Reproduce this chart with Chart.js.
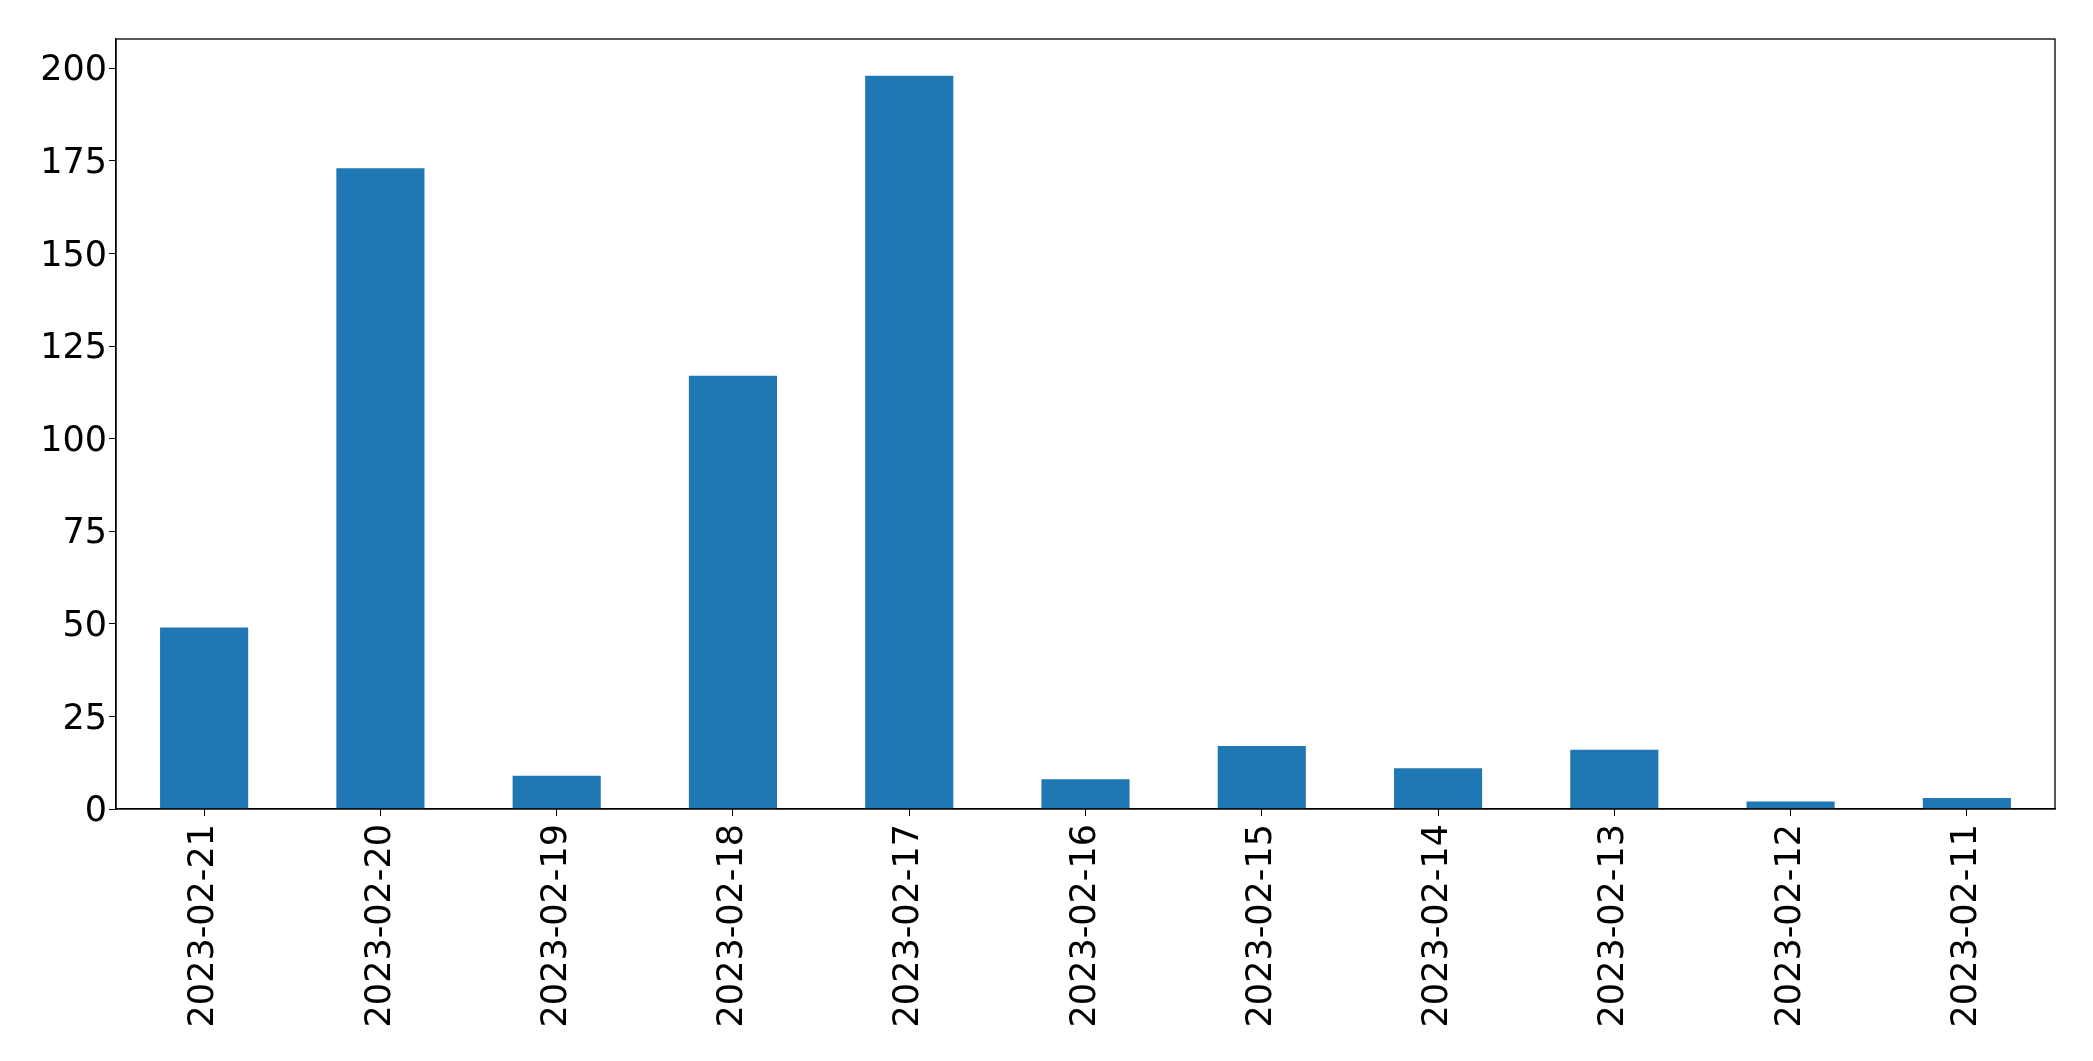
<!DOCTYPE html>
<html>
<head>
<meta charset="utf-8">
<script src="https://cdn.jsdelivr.net/npm/chart.js@4"></script>
<style>
  html, body { margin: 0; padding: 0; background: #ffffff; }
  #canvasDiv { width: 2093px; height: 1061px; }
</style>
</head>
<body>
<div id="canvasDiv"><canvas id="countsChart"></canvas></div>
<script>
const dates = [
    "2023-02-21", "2023-02-20", "2023-02-19", "2023-02-18", "2023-02-17", "2023-02-16",
    "2023-02-15", "2023-02-14", "2023-02-13", "2023-02-12", "2023-02-11"
];
const counts = [49, 173, 9, 117, 198, 8, 17, 11, 16, 2, 3];
const yTicks = [0, 25, 50, 75, 100, 125, 150, 175, 200];

const barColor = "#1f77b4";
const tickFont = { family: "DejaVu Sans", size: 35 };

// box around the plot area, like matplotlib's spines
const frameBox = {
    id: "frameBox",
    afterDraw: chart => {
        const { ctx, chartArea } = chart;
        ctx.save();
        ctx.strokeStyle = "#000000";
        ctx.lineWidth = 1.3;
        ctx.strokeRect(chartArea.left, chartArea.top, chartArea.right - chartArea.left, chartArea.bottom - chartArea.top);
        ctx.restore();
    }
};

new Chart(document.getElementById("countsChart"), {
    type: "bar",
    data: {
        labels: dates,
        datasets: [{
            data: counts,
            backgroundColor: barColor,
            barPercentage: 0.5,
            categoryPercentage: 1.0,
        }]
    },
    options: {
        responsive: true,
        maintainAspectRatio: false,
        animation: false,
        layout: { padding: { top: 39, right: 38, left: 0, bottom: 0 } },
        plugins: {
            legend: { display: false },
            tooltip: { enabled: false }
        },
        scales: {
            x: {
                offset: true,
                grid: { drawOnChartArea: false, drawTicks: true, tickLength: 7, tickColor: "#000000", offset: false },
                border: { display: true, color: "#000000", width: 1.3 },
                ticks: { color: "#000000", font: tickFont, maxRotation: 90, minRotation: 90, padding: 8, autoSkip: false },
                afterFit: scale => { scale.height = 252; }
            },
            y: {
                min: 0,
                max: Math.max(...counts) * 1.05,
                grid: { drawOnChartArea: false, drawTicks: true, tickLength: 7, tickColor: "#000000" },
                border: { display: true, color: "#000000", width: 1.3 },
                ticks: { color: "#000000", font: tickFont, stepSize: 25, padding: 2, labelOffset: 3 },
                afterBuildTicks: scale => { scale.ticks = yTicks.map(v => ({ value: v })); },
                afterFit: scale => { scale.width = 116; }
            }
        }
    },
    plugins: [frameBox]
});
</script>
</body>
</html>
